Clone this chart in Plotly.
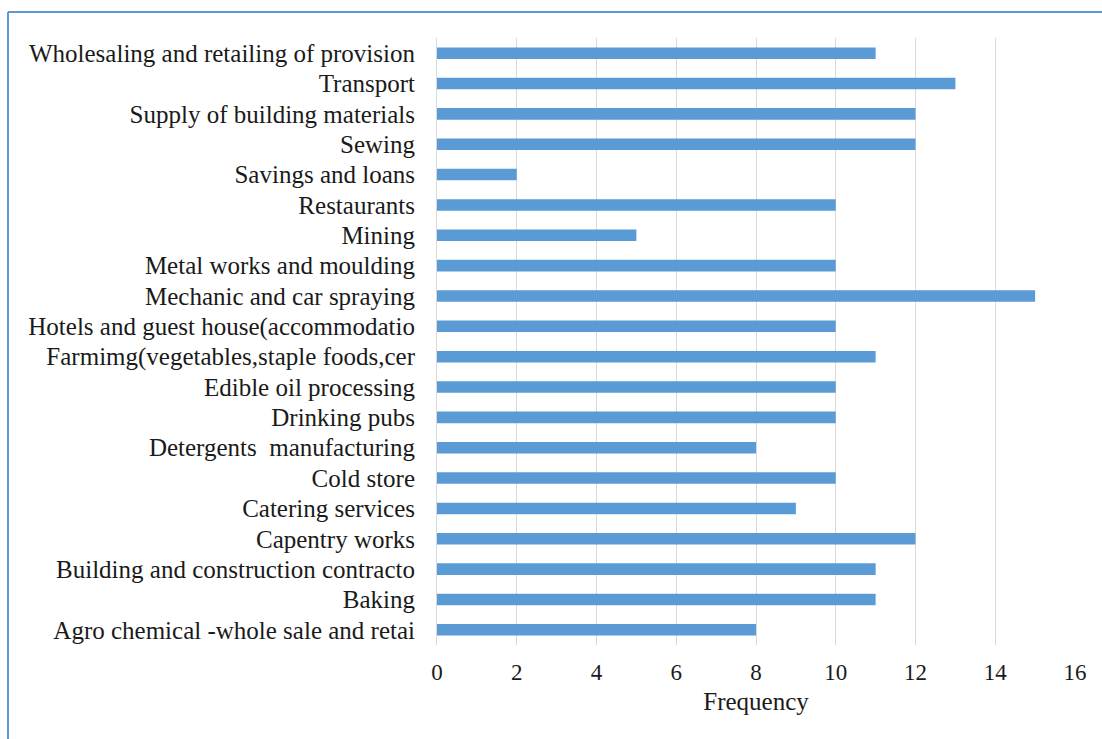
import plotly.graph_objects as go

# Business categories (bottom to top) and their frequencies
categories = [
    "Agro chemical -whole sale and retai",
    "Baking",
    "Building and construction contracto",
    "Capentry works",
    "Catering services",
    "Cold store",
    "Detergents\u00a0 manufacturing",
    "Drinking pubs",
    "Edible oil processing",
    "Farmimg(vegetables,staple foods,cer",
    "Hotels and guest house(accommodatio",
    "Mechanic and car spraying",
    "Metal works and moulding",
    "Mining",
    "Restaurants",
    "Savings and loans",
    "Sewing",
    "Supply of building materials",
    "Transport",
    "Wholesaling and retailing of provision",
]
frequency = [8, 11, 11, 12, 9, 10, 8, 10, 10, 11, 10, 15, 10, 5, 10, 2, 12, 12, 13, 11]
x_ticks = [0, 2, 4, 6, 8, 10, 12, 14, 16]

W, H = 1102, 739
ML, MR, MT, MB = 437, 27, 38, 94
BLUE = "#5B9BD5"
GRID = "#D9D9D9"
FONT = "Liberation Serif, Times New Roman, serif"
TEXT = "#1a1a1a"

fig = go.Figure(
    go.Bar(
        x=frequency,
        y=categories,
        orientation="h",
        marker=dict(color=BLUE, line=dict(width=0)),
        hoverinfo="x+y",
    )
)

pw = W - ML - MR
ph = H - MT - MB

def px_to_paper_x(px):
    return (px - ML) / pw

def px_to_paper_y(py):
    return (H - MB - py) / ph

# outer frame: only the top and left edges are visible
fig.add_shape(type="line", xref="paper", yref="paper",
              x0=px_to_paper_x(8), x1=px_to_paper_x(W + 10),
              y0=px_to_paper_y(12), y1=px_to_paper_y(12),
              line=dict(color=BLUE, width=2))
fig.add_shape(type="line", xref="paper", yref="paper",
              x0=px_to_paper_x(8), x1=px_to_paper_x(8),
              y0=px_to_paper_y(12), y1=px_to_paper_y(H + 10),
              line=dict(color=BLUE, width=2))

fig.update_layout(
    width=W,
    height=H,
    margin=dict(l=ML, r=MR, t=MT, b=MB, pad=0),
    paper_bgcolor="white",
    plot_bgcolor="white",
    bargap=0.62,
    showlegend=False,
    font=dict(family=FONT, color=TEXT),
    xaxis=dict(
        range=[0, 16],
        tickvals=x_ticks,
        ticktext=[str(v) for v in x_ticks],
        showgrid=True,
        gridcolor=GRID,
        gridwidth=1,
        zeroline=False,
        showline=False,
        ticks="",
        ticklabelstandoff=11,
        tickfont=dict(family=FONT, size=23, color=TEXT),
        title=dict(text="Frequency", font=dict(family=FONT, size=25, color=TEXT), standoff=8),
        fixedrange=True,
    ),
    yaxis=dict(
        type="category",
        categoryorder="array",
        categoryarray=categories,
        showgrid=False,
        showline=True,
        linecolor=GRID,
        linewidth=1,
        ticks="",
        ticklabelstandoff=16,
        tickfont=dict(family=FONT, size=25, color=TEXT),
        fixedrange=True,
    ),
)

fig.write_html("out.html")
